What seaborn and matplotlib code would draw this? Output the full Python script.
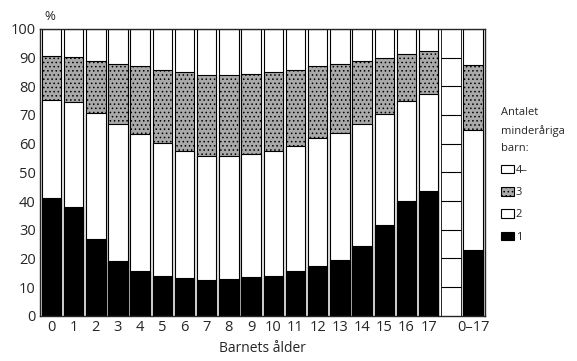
import seaborn as sns
import pandas as pd
import matplotlib.pyplot as plt

# andel (%) per antal minderåriga barn i hushållet
ages = [str(a) for a in range(18)] + ["0–17"]
one = [41.0, 38.1, 26.7, 19.2, 15.7, 14.0, 13.1, 12.6, 12.8, 13.4,
       14.0, 15.7, 17.4, 19.5, 24.4, 31.7, 39.9, 43.4, 23.0]
two = [34.3, 36.3, 44.0, 47.7, 47.7, 46.2, 44.5, 43.2, 43.0, 43.0,
       43.3, 43.6, 44.6, 44.2, 42.5, 38.6, 35.1, 33.9, 41.7]
three = [15.2, 15.7, 18.0, 20.9, 23.6, 25.3, 27.4, 28.3, 28.3, 28.0,
         27.7, 26.5, 25.0, 24.1, 21.8, 19.6, 16.4, 14.9, 22.6]

four = [100 - a - b - c for a, b, c in zip(one, two, three)]

df = pd.DataFrame({"age": ages, "1": one, "2": two, "3": three, "4–": four})
df["c1"] = df["1"]
df["c2"] = df["c1"] + df["2"]
df["c3"] = df["c2"] + df["3"]
df["c4"] = df["c3"] + df["4–"]

order = ages[:18] + [" "] + ages[18:]

sns.set_style("ticks")
plt.rcParams["font.family"] = ["Open Sans", "DejaVu Sans"]
plt.rcParams["hatch.linewidth"] = 0.6

fig = plt.figure(figsize=(5.77, 3.61), dpi=100)
ax = fig.add_axes([0.069, 0.125, 0.772, 0.795])

layers = [("c4", "white", "4–"), ("c3", "#a9a9a9", "3"),
          ("c2", "white", "2"), ("c1", "black", "1")]
for col, colour, lab in layers:
    sns.barplot(data=df, x="age", y=col, order=order, color=colour,
                width=0.88, edgecolor="black", linewidth=0.8,
                saturation=1, ax=ax, label=lab)

for p in ax.patches:
    fc = p.get_facecolor()[0]
    if 0.5 < fc < 0.9:
        p.set_hatch("....")

if ax.get_legend() is not None:
    ax.get_legend().remove()

# tom kolumn mellan 17 och 0–17
ax.hlines(range(10, 100, 10), 17.56, 18.44, color="black", linewidth=0.8)
ax.vlines([17.56, 18.44], 0, 100, color="black", linewidth=0.6)

ax.set_xlim(-0.52, 19.55)
ax.set_ylim(0, 100)
ax.set_yticks(range(0, 101, 10))
ax.tick_params(axis="both", labelsize=10.5, length=0, pad=3)
ax.set_xlabel("Barnets ålder", fontsize=10)
ax.set_ylabel("")
for s in ax.spines.values():
    s.set_linewidth(1.0)
ax.text(-0.3, 102, "%", fontsize=9.5, ha="left", va="bottom")

handles, labels = ax.get_legend_handles_labels()
leg = fig.legend(handles, labels, loc="upper left", bbox_to_anchor=(0.869, 0.703),
                 frameon=False, fontsize=8, handlelength=1.1, handleheight=0.8,
                 handletextpad=0.2, labelspacing=1.0, borderaxespad=0,
                 borderpad=0, title="Antalet\nminderåriga\nbarn:",
                 title_fontsize=8, alignment="left")
leg.get_title().set_linespacing(1.75)

fig.savefig("out.png", dpi=100)
